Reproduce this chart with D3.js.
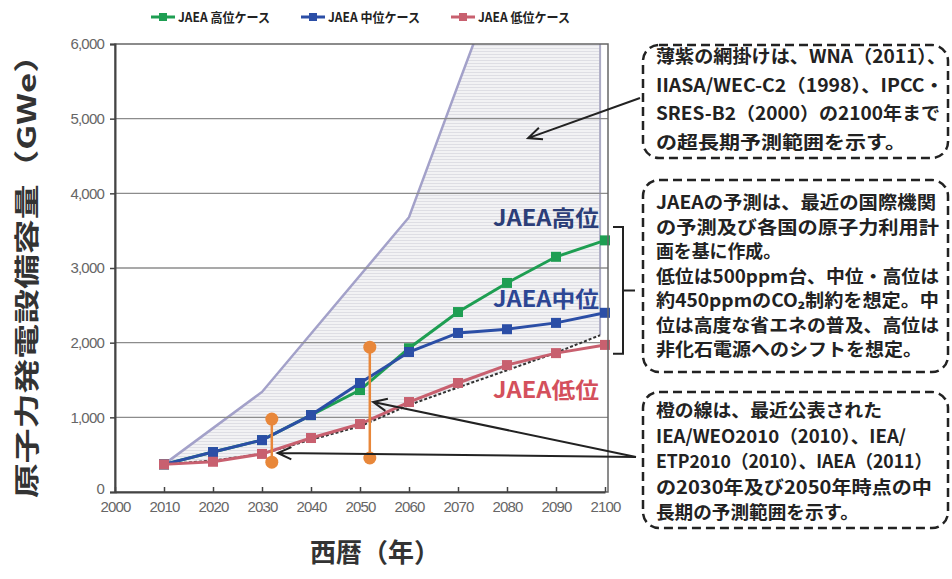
<!DOCTYPE html>
<html>
<head>
<meta charset="utf-8">
<script src="https://cdn.jsdelivr.net/npm/d3@7"></script>
<style>
  body { margin: 0; background: #fff; }
  svg { display: block; }
  text { font-family: "Noto Sans CJK JP", "Noto Sans", sans-serif; }
</style>
</head>
<body>
<svg id="chart" width="952" height="579"></svg>
<script>
// data
const years = [2010, 2020, 2030, 2040, 2050, 2060, 2070, 2080, 2090, 2100];
const highCase = [370, 535, 695, 1030, 1365, 1925, 2410, 2800, 3150, 3370];
const midCase = [370, 535, 695, 1030, 1460, 1875, 2130, 2180, 2265, 2400];
const lowCase = [370, 405, 510, 723, 910, 1205, 1460, 1700, 1860, 1970];

// long-term range (shaded)
const rangeUpperYears = [2010, 2030, 2060, 2070, 2080];
const rangeUpper = [370, 1340, 3680, 5450, 7200];
const rangeLowerYears = [2010, 2020, 2030, 2040, 2050, 2060, 2070, 2080, 2090, 2099];
const rangeLower = [370, 420, 510, 700, 880, 1165, 1400, 1630, 1865, 2100];
const rangeEndYear = 2099;

// orange bars (IEA / IAEA)
const orangeYears = [2032, 2052];
const orangeLow = [400, 455];
const orangeHigh = [977, 1940];

const yTicks = [0, 1000, 2000, 3000, 4000, 5000, 6000];
const xTicks = [2000, 2010, 2020, 2030, 2040, 2050, 2060, 2070, 2080, 2090, 2100];

const legendNames = ["JAEA 高位ケース", "JAEA 中位ケース", "JAEA 低位ケース"];
const seriesColors = ["#1e9e52", "#2b4ea6", "#c8606f"];

const box1Lines = ["薄紫の網掛けは、WNA（2011）、", "IIASA/WEC-C2（1998）、IPCC・", "SRES-B2（2000）の2100年まで", "の超長期予測範囲を示す。"];
const box2Lines = ["JAEAの予測は、最近の国際機関", "の予測及び各国の原子力利用計", "画を基に作成。", "低位は500ppm台、中位・高位は", "約450ppmのCO₂制約を想定。中", "位は高度な省エネの普及、高位は", "非化石電源へのシフトを想定。"];
const box3Lines = ["橙の線は、最近公表された", "IEA/WEO2010（2010）、IEA/", "ETP2010（2010）、IAEA（2011）", "の2030年及び2050年時点の中", "長期の予測範囲を示す。"];

const svg = d3.select("#chart");

const x = d3.scaleLinear().domain([2000, 2100]).range([115, 605]);
const y = d3.scaleLinear().domain([0, 6000]).range([492, 44]);
const right = x(2100) + 3;

// pattern for the shaded range
const defs = svg.append("defs");
const pat = defs.append("pattern")
    .attr("id", "hatch")
    .attr("patternUnits", "userSpaceOnUse")
    .attr("width", 6).attr("height", 3);
pat.append("rect").attr("width", 6).attr("height", 3).attr("fill", "#f2f2f4");
pat.append("line").attr("x1", 0).attr("x2", 6).attr("y1", 0.5).attr("y2", 0.5)
    .attr("stroke", "#dedee4").attr("stroke-width", 1);

defs.append("clipPath").attr("id", "plotclip")
  .append("rect")
    .attr("x", x(2000)).attr("y", y(6000))
    .attr("width", right - x(2000)).attr("height", y(0) - y(6000));

const plot = svg.append("g").attr("clip-path", "url(#plotclip)");

// shaded range
const upperPts = rangeUpperYears.map((d, i) => [x(d), y(rangeUpper[i])]);
const lowerPts = rangeLowerYears.map((d, i) => [x(d), y(rangeLower[i])]);
const polyPts = upperPts.concat([[x(rangeEndYear), y(7200)]], lowerPts.slice().reverse());
plot.append("polygon")
    .attr("points", polyPts.map(p => p.join(",")).join(" "))
    .attr("fill", "url(#hatch)");

// gridlines
svg.append("g")
  .selectAll("line")
  .data(yTicks.filter(d => d > 0 && d < 6000))
  .enter()
  .append("line")
    .attr("x1", x(2000)).attr("x2", right)
    .attr("y1", d => y(d)).attr("y2", d => y(d))
    .attr("stroke", "#8c8c8c").attr("stroke-width", 1.3);

// range borders
plot.append("path")
    .attr("d", d3.line()(upperPts))
    .attr("fill", "none").attr("stroke", "#a3a1c9").attr("stroke-width", 2.5);
plot.append("line")
    .attr("x1", x(rangeEndYear)).attr("x2", x(rangeEndYear))
    .attr("y1", y(6000)).attr("y2", y(rangeLower[rangeLower.length - 1]))
    .attr("stroke", "#acabc4").attr("stroke-width", 2);
svg.append("path")
    .attr("d", d3.line()(lowerPts))
    .attr("fill", "none").attr("stroke", "#333").attr("stroke-width", 2)
    .attr("stroke-dasharray", "3,2");

// series
const line = d3.line().x((d, i) => x(years[i])).y(d => y(d));
[highCase, midCase, lowCase].forEach((vals, k) => {
    const g = svg.append("g");
    g.append("path")
        .attr("d", line(vals))
        .attr("fill", "none")
        .attr("stroke", seriesColors[k])
        .attr("stroke-width", 3);
    g.selectAll("rect")
        .data(vals)
        .enter()
        .append("rect")
        .attr("x", (d, i) => x(years[i]) - 5)
        .attr("y", d => y(d) - 5)
        .attr("width", 10).attr("height", 10)
        .attr("fill", seriesColors[k]);
});

// orange bars
const og = svg.append("g");
orangeYears.forEach((yr, i) => {
    og.append("line")
        .attr("x1", x(yr)).attr("x2", x(yr))
        .attr("y1", y(orangeLow[i])).attr("y2", y(orangeHigh[i]))
        .attr("stroke", "#e8873a").attr("stroke-width", 2.5);
    [orangeLow[i], orangeHigh[i]].forEach(v => {
        og.append("circle")
            .attr("cx", x(yr)).attr("cy", y(v)).attr("r", 6.5)
            .attr("fill", "#e8873a");
    });
});

// frame
svg.append("rect")
    .attr("x", x(2000)).attr("y", y(6000))
    .attr("width", right - x(2000)).attr("height", y(0) - y(6000))
    .attr("fill", "none").attr("stroke", "#666").attr("stroke-width", 1.5);

// axes
const yAxis = svg.append("g")
    .attr("transform", `translate(${x(2000)},0)`)
    .call(d3.axisLeft(y).tickValues(yTicks).tickFormat(d3.format(",")).tickSize(5).tickPadding(6));
const xAxis = svg.append("g")
    .attr("transform", `translate(0,${y(0)})`)
    .call(d3.axisBottom(x).tickValues(xTicks).tickFormat(d3.format("d")).tickSizeInner(-5).tickSizeOuter(0).tickPadding(9));
[yAxis, xAxis].forEach(a => {
    a.selectAll("path").attr("stroke", "#444").attr("stroke-width", 2);
    a.selectAll("line").attr("stroke", "#444").attr("stroke-width", 1.5);
    a.selectAll("text")
        .attr("fill", "#666")
        .style("font-family", "'Liberation Sans', Arial, sans-serif")
        .style("font-size", "15px")
        .style("letter-spacing", "-0.8px");
});
yAxis.selectAll(".tick text").filter(d => d === 0).attr("dy", "0.1em");

// axis titles
svg.append("text")
    .attr("transform", `translate(36,${(y(0) + y(6000)) / 2}) rotate(-90)`)
    .attr("text-anchor", "middle")
    .attr("font-size", 25).attr("font-weight", "bold").attr("fill", "#333")
    .attr("textLength", 460).attr("lengthAdjust", "spacingAndGlyphs")
    .text("原子力発電設備容量（GWe）");
svg.append("text")
    .attr("x", 375).attr("y", 562)
    .attr("text-anchor", "middle")
    .attr("font-size", 26).attr("font-weight", "bold").attr("fill", "#333")
    .text("西暦（年）");

// series labels
const labels = [
    {t: "JAEA高位", v: 3560, c: "#2c3e78"},
    {t: "JAEA中位", v: 2480, c: "#2d4694"},
    {t: "JAEA低位", v: 1260, c: "#d4505c"}
];
labels.forEach(l => {
    svg.append("text")
        .attr("x", x(2100) - 6).attr("y", y(l.v))
        .attr("text-anchor", "end")
        .attr("font-size", 22).attr("font-weight", "bold").attr("fill", l.c)
        .attr("textLength", 106).attr("lengthAdjust", "spacingAndGlyphs")
        .text(l.t);
});

// bracket
const bx = x(2100) + 8;
svg.append("path")
    .attr("d", `M${bx},${y(3550)} H${bx + 10} V${y(1850)} H${bx} M${bx + 10},${y(2700)} H${bx + 22}`)
    .attr("fill", "none").attr("stroke", "#222").attr("stroke-width", 2);

// legend
legendNames.forEach((name, i) => {
    const lx = 151 + i * 150;
    const g = svg.append("g").attr("transform", `translate(${lx},17)`);
    g.append("line").attr("x1", 0).attr("x2", 24).attr("stroke", seriesColors[i]).attr("stroke-width", 3);
    g.append("rect").attr("x", 8).attr("y", -4).attr("width", 8).attr("height", 8).attr("fill", seriesColors[i]);
    g.append("text")
        .attr("x", 27).attr("y", 5)
        .attr("font-size", 13).attr("font-weight", "bold").attr("fill", "#222")
        .attr("textLength", 92).attr("lengthAdjust", "spacingAndGlyphs")
        .text(name);
});

// text boxes
function drawBox(top, bottom, lines, firstBase, step, widths) {
    svg.append("rect")
        .attr("x", 643).attr("y", top)
        .attr("width", 305).attr("height", bottom - top)
        .attr("rx", 16).attr("ry", 16)
        .attr("fill", "none").attr("stroke", "#222").attr("stroke-width", 2.5)
        .attr("stroke-dasharray", "9,5");
    lines.forEach((t, i) => {
        svg.append("text")
            .attr("x", 656).attr("y", firstBase + i * step)
            .attr("font-size", 18).attr("font-weight", "bold").attr("fill", "#222")
            .attr("textLength", widths[i]).attr("lengthAdjust", "spacingAndGlyphs")
            .text(t);
    });
}
drawBox(45, 158, box1Lines, 63, 28.5, [290, 288, 284, 250]);
drawBox(180, 372, box2Lines, 209, 24.5, [280, 283, 125, 283, 283, 283, 266]);
drawBox(392, 528, box3Lines, 417, 25.5, [226, 250, 276, 276, 203]);

// arrows
function arrow(x1, y1, x2, y2) {
    const a = Math.atan2(y1 - y2, x1 - x2);
    const len = 15, sp = 0.42;
    svg.append("path")
        .attr("d", `M${x1},${y1} L${x2},${y2}` +
            ` M${x2 + len * Math.cos(a + sp)},${y2 + len * Math.sin(a + sp)} L${x2},${y2}` +
            ` L${x2 + len * Math.cos(a - sp)},${y2 + len * Math.sin(a - sp)}`)
        .attr("fill", "none").attr("stroke", "#222").attr("stroke-width", 2);
}
arrow(640, 98, x(2084.3), y(4740));
arrow(636, 457, x(2033.2), y(522));
arrow(636, 457, x(2052.7), y(1205));
</script>
</body>
</html>
